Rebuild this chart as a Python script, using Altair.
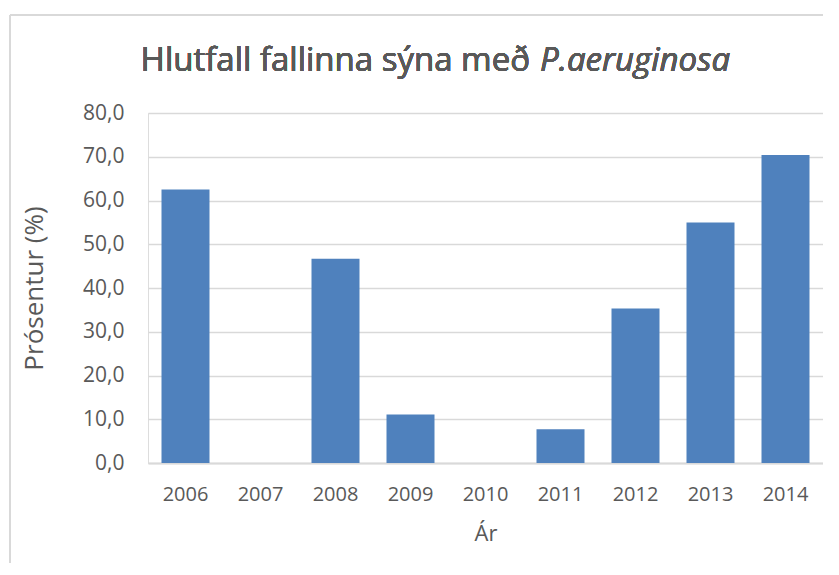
import altair as alt
import pandas as pd

years = ["2006", "2007", "2008", "2009", "2010", "2011", "2012", "2013", "2014"]
values = [62.5, 0.0, 46.7, 11.1, 0.0, 7.7, 35.3, 55.0, 70.4]
y_ticks = [0, 10, 20, 30, 40, 50, 60, 70, 80]

title_plain = "Hlutfall fallinna sýna með"
title_italic = "P.aeruginosa"
x_title = "Ár"
y_title = "Prósentur (%)"

df = pd.DataFrame({"year": years, "value": values})

TXT = "#595959"
GRID = "#d9d9d9"
FONT = "Open Sans"

base = alt.Chart(df)

bars = base.mark_bar(color="#4f81bd").encode(
    x=alt.X("year:N", sort=years,
            scale=alt.Scale(paddingInner=0.36, paddingOuter=0.18),
            axis=alt.Axis(title=x_title, labelAngle=0, ticks=False,
                          domainColor=GRID, domainWidth=2,
                          labelFont=FONT, labelFontSize=20, labelColor=TXT,
                          labelPadding=21,
                          titleFont=FONT, titleFontSize=22, titleColor=TXT,
                          titleFontWeight="normal", titlePadding=19)),
    y=alt.Y("value:Q",
            scale=alt.Scale(domain=[0, 80], nice=False),
            axis=alt.Axis(title=y_title, values=y_ticks, ticks=False, domain=False,
                          gridColor=GRID, gridWidth=1.5,
                          labelExpr="replace(format(datum.value, '.1f'), '.', ',')",
                          labelFont=FONT, labelFontSize=21, labelColor=TXT,
                          labelPadding=24,
                          titleFont=FONT, titleFontSize=26, titleColor=TXT,
                          titleFontWeight="normal", titlePadding=35)),
)

t1 = base.mark_text(align="right", baseline="alphabetic", font=FONT, fontSize=33,
                    color=TXT).encode(
    x=alt.value(382), y=alt.value(-42), text=alt.value(title_plain))
t2 = base.mark_text(align="left", baseline="alphabetic", font=FONT, fontSize=33,
                    fontStyle="italic", color=TXT).encode(
    x=alt.value(392), y=alt.value(-42), text=alt.value(title_italic))

frame_top = base.mark_rule(color=GRID, strokeWidth=2).encode(
    x=alt.value(-138), x2=alt.value(720), y=alt.value(-98))
frame_left = base.mark_rule(color=GRID, strokeWidth=2).encode(
    x=alt.value(-138), y=alt.value(-98), y2=alt.value(500))

chart = alt.layer(frame_top, frame_left, bars, t1, t2).properties(
    width=675, height=350,
    padding={"left": 140, "top": 105, "right": 0, "bottom": 100},
    autosize=alt.AutoSizeParams(type="none"),
).configure_view(stroke=None).configure(background="white")

chart.save("out.html", embed_options={"renderer": "svg", "actions": False})
